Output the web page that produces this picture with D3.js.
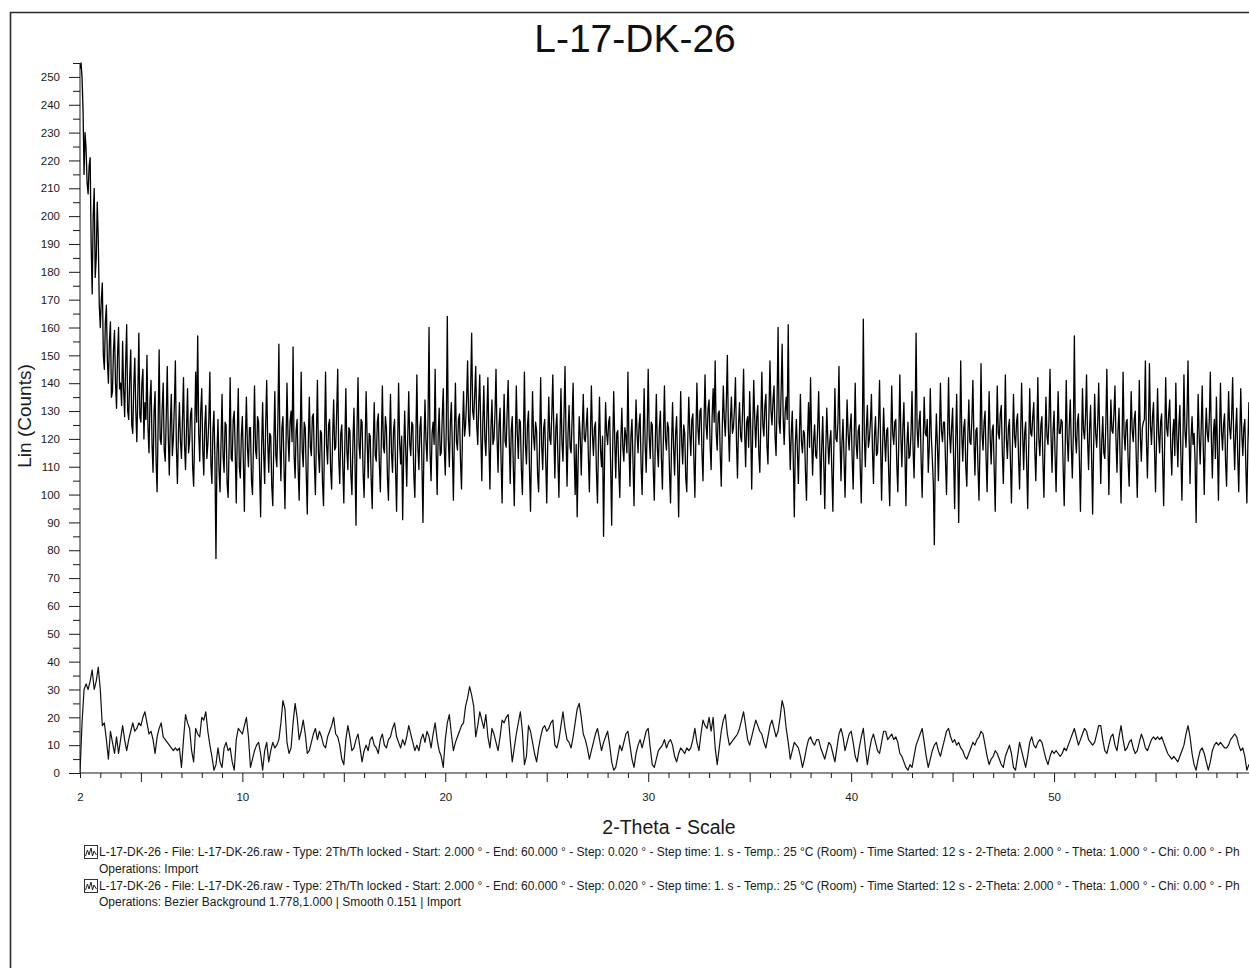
<!DOCTYPE html>
<html><head><meta charset="utf-8">
<script src="https://cdn.jsdelivr.net/npm/d3@7"></script>
<style>
html,body{margin:0;padding:0;background:#fff;overflow:hidden}
svg{display:block;font-family:Arial,"Liberation Sans",sans-serif}
</style></head>
<body><svg id="c" width="1249" height="968"></svg>
<script>
const title = "L-17-DK-26";
const xTitle = "2-Theta - Scale";
const yTitle = "Lin (Counts)";
const xStart = 2.0, xEnd = 60.0;
const xTickLabels = [2, 10, 20, 30, 40, 50];
const yTickLabels = [0,10,20,30,40,50,60,70,80,90,100,110,120,130,140,150,160,170,180,190,200,210,220,230,240,250];
const legendLines = [
 "L-17-DK-26 - File: L-17-DK-26.raw - Type: 2Th/Th locked - Start: 2.000 \u00b0 - End: 60.000 \u00b0 - Step: 0.020 \u00b0 - Step time: 1. s - Temp.: 25 \u00b0C (Room) - Time Started: 12 s - 2-Theta: 2.000 \u00b0 - Theta: 1.000 \u00b0 - Chi: 0.00 \u00b0 - Ph",
 "Operations: Import",
 "L-17-DK-26 - File: L-17-DK-26.raw - Type: 2Th/Th locked - Start: 2.000 \u00b0 - End: 60.000 \u00b0 - Step: 0.020 \u00b0 - Step time: 1. s - Temp.: 25 \u00b0C (Room) - Time Started: 12 s - 2-Theta: 2.000 \u00b0 - Theta: 1.000 \u00b0 - Chi: 0.00 \u00b0 - Ph",
 "Operations: Bezier Background 1.778,1.000 | Smooth 0.151 | Import"
];
// raw counts, 2.00 .. 60.00 step 0.05 (one row per degree)
const rawCounts = [
253,255,250,238,215,230,224,212,208,218,221,190,172,200,210,178,185,205,192,168,
160,170,176,150,145,162,168,148,140,155,162,135,137,152,159,140,131,150,160,138,
140,132,155,138,128,147,161,130,127,142,152,125,122,139,149,130,119,136,158,128,
126,140,145,120,133,127,150,124,115,134,141,118,108,130,137,112,101,125,152,120,
118,131,140,116,112,128,146,121,107,125,136,114,120,132,148,117,104,122,133,119,
113,127,142,118,109,124,138,115,119,129,131,110,103,121,144,126,157,122,112,130,
138,116,107,125,132,113,118,127,144,111,104,123,130,112,77,115,127,109,101,119,
136,114,108,126,125,104,99,118,142,113,112,127,130,115,97,122,138,110,106,121,
128,112,94,120,135,117,110,124,124,105,100,119,139,116,113,128,126,108,92,117,
133,115,104,125,141,119,108,122,121,103,96,118,137,114,110,126,154,118,105,124,
128,111,95,117,140,121,112,126,130,119,153,114,106,123,127,109,98,120,144,116,
110,126,124,107,93,119,135,117,114,128,129,111,100,121,141,115,108,123,122,104,
96,120,144,118,111,125,127,109,102,121,134,116,117,130,145,113,104,122,125,110,
97,118,138,116,109,124,123,107,100,119,131,112,89,123,142,118,113,127,126,108,
99,117,137,120,106,122,121,105,95,118,133,114,112,126,129,111,101,120,139,117,
115,128,124,106,98,119,136,115,108,123,127,109,94,117,140,119,111,121,91,114,
130,116,103,121,137,118,114,126,125,107,99,120,143,117,109,124,128,111,90,118,
134,119,112,127,160,115,105,122,126,118,145,116,100,121,131,114,115,128,138,117,
107,124,164,120,110,126,133,116,98,122,140,119,116,127,129,112,102,123,137,121,
125,134,148,127,121,138,158,130,127,136,146,125,118,133,143,122,105,126,139,120,
114,128,142,119,102,124,134,118,120,129,145,121,108,125,131,112,97,121,136,119,
117,130,141,120,104,123,128,111,96,118,139,122,113,127,126,109,100,120,144,118,
111,125,130,109,94,117,137,121,116,126,123,107,101,119,142,118,109,124,127,112,
97,119,135,120,118,129,143,122,106,124,129,113,99,120,138,119,112,128,146,121,
103,122,132,117,115,127,140,116,100,118,92,113,128,121,107,123,136,120,119,125,
131,114,101,120,139,122,114,124,126,108,97,119,135,116,110,121,85,113,133,122,
118,126,128,110,89,117,137,120,106,122,123,109,99,119,131,117,112,124,121,115,
144,119,103,121,127,112,96,118,134,122,115,125,129,110,100,120,138,118,108,123,
145,121,113,126,125,109,98,119,136,117,110,124,130,113,102,121,139,120,116,126,
124,108,97,118,133,117,107,122,128,111,92,116,137,119,111,125,122,106,101,120,
135,122,114,127,129,113,99,121,140,124,118,130,131,115,105,126,143,125,120,131,
134,118,109,128,138,126,148,122,116,129,130,114,103,124,139,127,121,133,150,124,
112,127,135,122,124,131,142,119,106,125,133,121,119,130,145,123,110,126,128,117,
137,124,102,123,141,127,117,128,132,115,108,126,144,125,121,132,136,118,111,129,
148,130,125,134,139,121,114,133,160,126,122,137,154,128,118,130,135,127,161,123,
109,122,130,112,92,118,127,116,104,121,136,119,115,123,122,108,98,120,133,117,
142,121,107,119,125,114,113,124,137,118,100,117,128,112,95,116,131,120,111,119,
123,108,94,118,138,120,119,126,146,121,105,119,127,113,99,117,134,122,116,124,
129,113,102,120,140,118,113,123,125,109,97,118,163,121,110,124,132,117,120,126,
136,116,104,121,128,114,115,125,141,119,98,117,131,120,112,123,124,108,96,118,
139,122,118,126,127,111,101,120,143,121,110,124,133,115,96,118,126,113,114,122,
137,117,106,123,158,124,117,126,130,112,99,119,135,122,121,127,108,117,138,121,
113,104,82,115,129,118,105,121,140,123,119,126,126,112,100,120,142,122,115,124,
131,113,95,119,136,115,90,117,148,122,112,124,127,110,103,121,134,119,118,127,
141,120,107,123,124,110,98,118,147,122,116,126,130,113,101,120,137,121,111,123,
125,109,94,118,139,122,120,129,132,115,104,121,143,120,113,124,127,112,97,118,
136,121,117,126,129,113,102,120,140,123,109,122,126,111,95,117,138,122,121,128,
133,116,105,121,142,120,114,125,128,112,99,119,135,121,118,127,145,121,108,123,
130,114,101,120,137,122,122,127,126,109,96,118,141,120,112,125,134,117,106,122,
157,121,115,126,129,112,94,117,138,123,120,128,143,120,109,124,132,113,93,117,
136,122,117,126,140,121,104,119,128,115,113,125,145,121,100,119,134,123,122,129,
139,120,108,123,131,114,97,118,144,122,116,126,127,112,103,121,137,123,119,127,
130,113,99,119,141,121,112,124,126,127,148,120,106,123,147,125,118,128,133,116,
101,120,138,122,115,126,129,112,96,119,142,124,121,129,134,117,107,122,127,114,
140,121,110,125,132,114,98,119,143,123,117,128,148,122,104,120,128,118,122,112,
90,117,136,121,111,124,139,118,100,120,131,122,119,127,144,120,106,122,127,113,
135,117,98,121,140,123,116,125,129,112,103,121,137,124,120,128,142,121,109,123,
131,114,101,120,138,122,114,124,127,110,97,118,133,114,100,117,125,119,112,118,
120
];
// background-subtracted, smoothed counts, 2.0 .. 60.0 step 0.1
const smoothCounts = [
0,18,30,32,30,33,37,30,33,38,
30,17,18,12,5,15,11,7,13,7,
12,17,12,8,12,15,18,15,16,18,
17,20,22,18,14,15,12,7,13,16,
18,13,12,11,10,9,8,9,8,9,
2,12,21,18,16,8,4,16,14,13,
20,19,22,15,10,6,1,3,9,4,
2,9,11,8,9,4,1,12,16,15,
14,17,20,13,2,5,8,10,11,7,
1,8,11,4,8,11,9,10,12,18,
26,23,11,7,9,18,25,20,12,15,
19,14,7,8,11,14,16,12,15,13,
10,9,13,15,17,20,14,13,10,5,
3,12,17,13,8,9,12,14,9,4,
8,10,8,12,13,10,9,7,12,14,
10,9,12,13,16,18,13,11,9,12,
10,13,17,14,11,8,10,8,12,14,
11,15,13,9,14,18,12,8,6,2,
12,18,21,14,8,11,13,15,17,18,
24,27,31,28,24,13,17,22,19,16,
21,13,9,16,14,11,8,13,19,18,
20,21,12,4,9,14,18,22,15,3,
6,17,15,11,7,4,9,13,16,17,
15,16,18,19,10,9,12,17,22,16,
12,11,9,13,18,23,25,20,14,12,
9,5,8,11,14,16,12,8,11,13,
15,10,4,1,2,6,10,8,11,14,
15,10,5,2,7,10,12,9,12,15,
16,9,3,2,5,8,9,10,12,9,
11,12,10,6,4,7,9,8,7,9,
8,9,12,16,11,8,14,19,17,16,
20,15,20,9,3,9,15,19,21,14,
10,11,12,13,14,16,19,22,17,12,
10,13,16,19,17,15,14,11,9,13,
17,19,16,13,15,20,26,23,16,11,
5,8,11,10,9,6,2,5,9,12,
13,11,10,12,12,9,7,5,8,11,
10,7,4,9,14,16,13,8,11,14,
15,11,6,4,9,13,16,9,3,8,
12,14,11,8,7,11,15,15,12,13,
14,12,13,11,7,6,4,2,1,3,
2,6,10,12,14,16,11,6,2,5,
8,10,11,8,6,9,12,15,16,13,
11,12,10,11,9,8,6,5,7,9,
11,10,12,13,15,14,10,6,3,5,
6,8,7,5,3,2,6,8,10,7,
2,1,6,11,8,5,2,6,11,13,
10,9,11,12,11,8,5,3,6,8,
7,8,7,6,7,9,8,10,12,14,
16,13,10,12,14,16,15,12,11,10,
11,14,17,17,12,8,7,10,13,14,
10,8,13,17,12,8,9,11,12,9,
7,8,11,14,12,9,8,10,12,13,
12,13,12,13,11,9,7,6,5,6,
5,4,6,8,10,14,17,13,7,3,
1,5,8,9,7,4,1,4,8,10,
11,10,11,10,9,9,10,12,13,14,
13,10,8,9,6,1,3,2,4,5,
6
];

const svg = d3.select("#c");
const ink = "#1a1a1a";

const x = d3.scaleLinear().domain([2, 60]).range([80, 1257]);
const y = d3.scaleLinear().domain([0, 255]).range([773, 63]);

// frame
svg.append("path").attr("d", "M10.5,968 V12.5 H1249")
  .attr("fill", "none").attr("stroke", "#2a2a2a").attr("stroke-width", 1.6);

// title
svg.append("text").attr("x", 635).attr("y", 52).attr("text-anchor", "middle")
  .attr("font-size", 39).attr("fill", "#111").text(title);

const defs = svg.append("defs");
defs.append("clipPath").attr("id", "plotclip").append("rect")
  .attr("x", 80).attr("y", 40).attr("width", 1169).attr("height", 740);

// y axis: major + minor ticks
const yMajor = d3.axisLeft(y).tickValues(yTickLabels).tickSize(11).tickPadding(9).tickSizeOuter(0);
const yMinor = d3.axisLeft(y).tickValues(yTickLabels.map(v => v + 5)).tickSize(7).tickFormat("").tickSizeOuter(0);
const gyMinor = svg.append("g").attr("transform", "translate(80,0)").call(yMinor);
gyMinor.select(".domain").remove();
const gy = svg.append("g").attr("transform", "translate(80,0)").call(yMajor);
gy.select(".domain").attr("d", `M0,${y(0)}V${y(255)}`).attr("stroke", ink);
gy.selectAll("text").attr("font-size", 11.5).attr("fill", ink).attr("font-family", "Arial, 'Liberation Sans', sans-serif");

// x axis: integer minor ticks, multiples of 5 longer
const xInts = d3.range(2, 61);
const xMinor = d3.axisBottom(x).tickValues(xInts.filter(v => v % 5 !== 0)).tickSize(5).tickFormat("").tickSizeOuter(0);
const xMajorT = d3.axisBottom(x).tickValues(xInts.filter(v => v % 5 === 0)).tickSize(9).tickFormat("").tickSizeOuter(0);
const xLab = d3.axisBottom(x).tickValues(xTickLabels).tickSize(0).tickPadding(20).tickFormat(d3.format("d"));
svg.append("g").attr("transform", `translate(0,${y(0)})`).call(xMinor).select(".domain").remove();
svg.append("g").attr("transform", `translate(0,${y(0)})`).call(xMajorT).select(".domain").remove();
const gxl = svg.append("g").attr("transform", `translate(0,${y(0)})`).call(xLab);
gxl.select(".domain").attr("d", `M80,0H1249`).attr("stroke", ink);
gxl.selectAll("text").attr("font-size", 11.5).attr("fill", ink).attr("font-family", "Arial, 'Liberation Sans', sans-serif");
svg.selectAll(".tick line").attr("stroke", ink);

// axis titles
svg.append("text").attr("transform", "translate(31,416) rotate(-90)").attr("text-anchor", "middle")
  .attr("font-size", 19).attr("fill", ink).text(yTitle);
svg.append("text").attr("x", 669).attr("y", 834).attr("text-anchor", "middle")
  .attr("font-size", 19.5).attr("fill", ink).text(xTitle);

// data lines
const lineFor = arr => {
  const step = (xEnd - xStart) / (arr.length - 1);
  return d3.line().x((d, i) => x(xStart + i * step)).y(d => y(d))(arr);
};
const plot = svg.append("g").attr("clip-path", "url(#plotclip)");
plot.append("path").attr("d", lineFor(smoothCounts))
  .attr("fill", "none").attr("stroke", "#111").attr("stroke-width", 1.2).attr("stroke-linejoin", "round");
plot.append("path").attr("d", lineFor(rawCounts))
  .attr("fill", "none").attr("stroke", "#000").attr("stroke-width", 1.3).attr("stroke-linejoin", "round");

// legend
const legY = [856, 873, 890, 906];
legendLines.forEach((t, i) => {
  svg.append("text").attr("x", 99).attr("y", legY[i]).attr("font-size", 12)
    .attr("fill", ink).text(t);
});
[0, 2].forEach(i => {
  const g = svg.append("g").attr("transform", `translate(84,${legY[i] - 11})`);
  g.append("rect").attr("x", 0.5).attr("y", 0.5).attr("width", 13).attr("height", 13)
    .attr("fill", "#fff").attr("stroke", "#333");
  g.append("path").attr("d", "M1.5,11 L3.5,5 L5,10 L7,3 L8.5,11 L10,6 L12.5,10")
    .attr("fill", "none").attr("stroke", "#222").attr("stroke-width", 1);
});
</script></body></html>
